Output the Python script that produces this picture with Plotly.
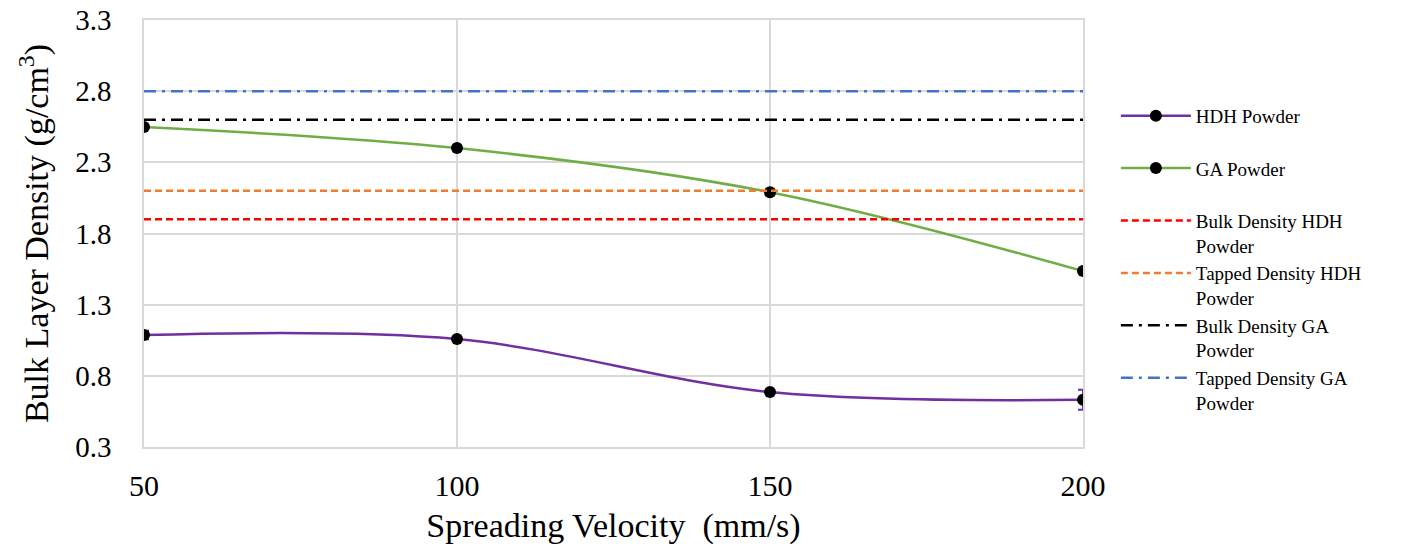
import plotly.graph_objects as go

velocity = [50, 100, 150, 200]
hdh = [1.087, 1.058, 0.686, 0.632]
hdh_err = [0.03, 0.015, 0.015, 0.07]
ga = [2.548, 2.40, 2.09, 1.536]
ga_err = [0.015, 0.02, 0.025, 0.015]
y_ticks = [0.3, 0.8, 1.3, 1.8, 2.3, 2.8, 3.3]

ref_names = ["Bulk Density HDH<br>Powder", "Tapped Density HDH<br>Powder",
             "Bulk Density GA<br>Powder", "Tapped Density GA<br>Powder"]
ref_values = [1.90, 2.10, 2.60, 2.80]
ref_colors = ["#FF0000", "#ED7D31", "#000000", "#4472C4"]
ref_dash = ["7px,4px", "7px,4px", "12px,6px,3px,6px", "12px,6px,3px,6px"]

font = "Liberation Serif, Times New Roman, serif"

fig = go.Figure()
fig.add_trace(go.Scatter(
    x=velocity, y=hdh, name="HDH Powder<br> ", mode="lines+markers",
    line=dict(color="#7030A0", width=2.5, shape="spline", smoothing=1),
    marker=dict(color="black", size=12),
    error_y=dict(type="data", array=hdh_err, color="#7030A0", thickness=2, width=5)))
fig.add_trace(go.Scatter(
    x=velocity, y=ga, name="GA Powder<br> ", mode="lines+markers",
    line=dict(color="#70AD47", width=2.5, shape="spline", smoothing=1),
    marker=dict(color="black", size=12),
    error_y=dict(type="data", array=ga_err, color="#70AD47", thickness=2, width=5)))
for n, v, c, d in zip(ref_names, ref_values, ref_colors, ref_dash):
    fig.add_trace(go.Scatter(
        x=[velocity[0], velocity[-1]], y=[v, v], name=n, mode="lines",
        line=dict(color=c, width=2.5, dash=d)))

fig.update_layout(
    width=1401, height=552,
    margin=dict(l=136, r=326, t=12, b=113, autoexpand=False),
    paper_bgcolor="white", plot_bgcolor="white",
    font=dict(family=font, color="black"),
    showlegend=True,
    legend=dict(x=1.035, xanchor="left", y=0.82, yanchor="top",
                font=dict(size=19, family=font), valign="top",
                tracegroupgap=0, itemwidth=70),
    xaxis=dict(range=[50, 200], tickvals=velocity, ticktext=[str(v) for v in velocity],
               showgrid=True, gridcolor="#d9d9d9", gridwidth=1.5,
               showline=True, mirror=True, linecolor="#d9d9d9", linewidth=1.5,
               zeroline=False, ticks="", tickfont=dict(size=30),
               ticklabelstandoff=11, automargin=False, ticklabeloverflow="allow",
               title=dict(text="Spreading Velocity  (mm/s)", font=dict(size=34), standoff=12)),
    yaxis=dict(range=[0.3, 3.3], tickvals=y_ticks, ticktext=[f"{v:.1f}" for v in y_ticks],
               showgrid=True, gridcolor="#d9d9d9", gridwidth=1.5,
               showline=True, mirror=True, linecolor="#d9d9d9", linewidth=1.5,
               zeroline=False, ticks="", tickfont=dict(size=29),
               ticklabelstandoff=25, automargin=False, ticklabeloverflow="allow",
               title=dict(text="Bulk Layer Density (g/cm<sup>3</sup>)", font=dict(size=34), standoff=16)),
)
fig.write_html("out.html")
